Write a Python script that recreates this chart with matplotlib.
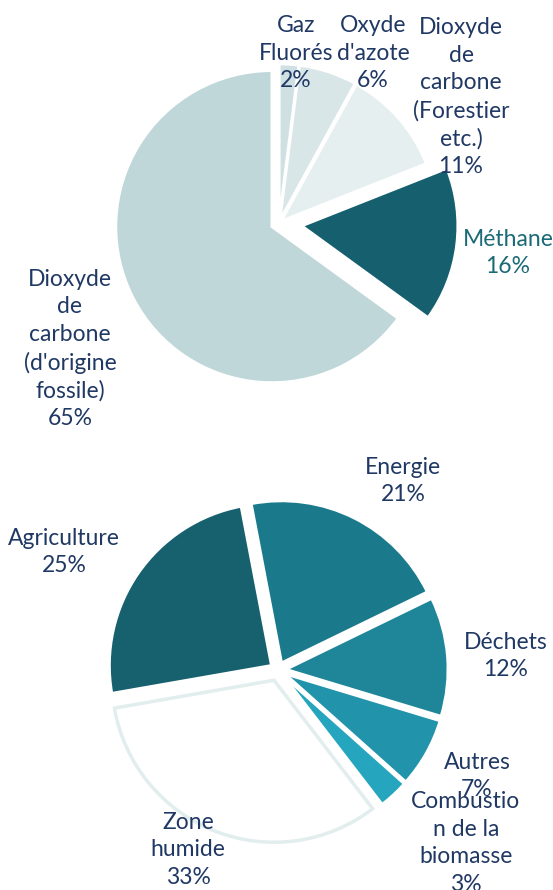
import matplotlib.pyplot as plt
import numpy as np

# gaz a effet de serre
gaz_noms = ["Gaz\nFluorés", "Oxyde\nd'azote", "Dioxyde\nde\ncarbone\n(Forestier\netc.)",
            "Méthane", "Dioxyde\nde\ncarbone\n(d'origine\nfossile)"]
gaz_pct = [2, 6, 11, 16, 65]

# sources de methane
src_noms = ["Energie", "Déchets", "Autres", "Combustio\nn de la\nbiomasse",
            "Zone\nhumide", "Agriculture"]
src_pct = [21, 12, 7, 3, 33, 25]

bleu = '#203864'

W, H = 553, 890
fig = plt.figure(figsize=(W / 100, H / 100), dpi=100)
ax = fig.add_axes([0, 0, 1, 1])
plt.rcParams['font.family'] = ['Lato', 'DejaVu Sans']

# camembert du haut (explode en pixels, les axes sont en pixels)
ax.pie(gaz_pct, center=(279, H - 223), radius=156, startangle=90,
       counterclock=False, explode=[3, 3, 3, 23, 8],
       colors=['#cfe0e2', '#d8e6e8', '#e6eff0', '#155f6e', '#bfd7d9'],
       wedgeprops=dict(edgecolor='white', linewidth=2))

# camembert du bas
w2, _ = ax.pie(src_pct, center=(278, H - 670), radius=162, startangle=100.8,
               counterclock=False, explode=[8, 8, 8, 8, 11, 8],
               colors=['#1a7a8c', '#1e8698', '#2193aa', '#25a5be', 'white', '#17606e'],
               wedgeprops=dict(edgecolor='white', linewidth=2))
w2[4].set_edgecolor('#e2eded')
w2[4].set_linewidth(2.5)

pos1 = [(296, 53), (373, 53), (461, 97), (508, 253), (70, 349)]
for nom, p, (x, y) in zip(gaz_noms, gaz_pct, pos1):
    c = '#1b6b77' if nom == "Méthane" else bleu
    ax.text(x, H - y, f"{nom}\n{p}%", ha='center', va='center', fontsize=16.5,
            color=c, linespacing=1.38)

pos2 = [(403, 481), (506, 656), (477, 776), (466, 843), (188, 850), (64, 552)]
for nom, p, (x, y) in zip(src_noms, src_pct, pos2):
    ax.text(x, H - y, f"{nom}\n{p}%", ha='center', va='center', fontsize=16.5,
            color=bleu, linespacing=1.38)

ax.set_xlim(0, W)
ax.set_ylim(0, H)
ax.set_aspect('auto')
ax.axis('off')

plt.savefig('out.png', dpi=100)
